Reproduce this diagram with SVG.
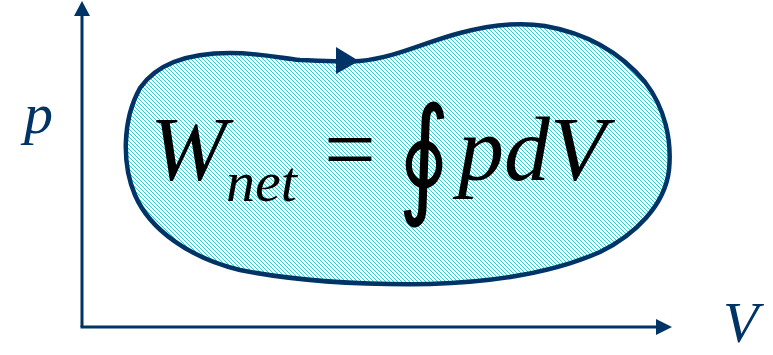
<svg xmlns="http://www.w3.org/2000/svg" width="773" height="355" viewBox="0 0 773 355">
  <style>
    .axis { stroke: #003366; stroke-width: 3; fill: none; }
    .head { fill: #003366; }
    .blob { stroke: #003366; stroke-width: 4.5; fill: url(#hatch); }
  </style>
  <defs>
    <pattern id="hatch" patternUnits="userSpaceOnUse" x="0" y="0" width="4" height="4">
      <rect width="4" height="4" fill="#ffffff"/>
      <g fill="#33CCCC" shape-rendering="crispEdges">
        <rect x="0" y="0" width="1" height="1"/>
        <rect x="1" y="1" width="1" height="1"/>
        <rect x="2" y="2" width="1" height="1"/>
        <rect x="3" y="3" width="1" height="1"/>
      </g>
    </pattern>
  </defs>

  <g id="cycle">
    <path class="blob" d="M 300,60 C 330,61 345,62 360,61 C 395,58 425,42 460,33 C 490,25 520,22 545,26 C 585,33 620,52 645,82 C 665,108 672,140 669,170 C 665,205 635,235 600,252 C 555,272 500,282 430,284 C 360,285 290,280 240,270 C 190,258 150,230 135,195 C 122,165 122,120 140,88 C 158,62 190,53 230,53 C 260,53 280,58 300,60 Z"/>
    <polygon class="head" points="336,47 359,61 336,74"/>
  </g>

  <g id="connectors">
    <line class="axis" x1="82" y1="14" x2="82" y2="327"/>
    <line class="axis" x1="80.5" y1="327" x2="660" y2="327"/>
    <polygon class="head" points="82,1 90,16 74,16"/>
    <polygon class="head" points="672,327 656,319 656,335"/>
  </g>

  <g id="label-p">
    <text x="24" y="133" font-family="Liberation Serif" font-style="italic" font-size="58" fill="#003366">p</text>
  </g>
  <g id="label-V">
    <text x="723" y="342" font-family="Liberation Serif" font-style="italic" font-size="58" fill="#003366">V</text>
  </g>

  <g id="equation">
    <text x="150" y="180" font-family="Liberation Serif" font-style="italic" font-size="92" fill="#000000">W</text>
    <text x="226" y="201" font-family="Liberation Serif" font-style="italic" font-size="58" fill="#000000">net</text>
    <text x="324" y="180" font-family="Liberation Serif" font-size="92" fill="#000000">=</text>
    <text x="0" y="0" transform="translate(398,200) scale(1,1.3)" font-family="DejaVu Serif" font-size="100" fill="#000000">∮</text>
    <text x="458" y="180" font-family="Liberation Serif" font-style="italic" font-size="92" fill="#000000">pdV</text>
  </g>
</svg>
